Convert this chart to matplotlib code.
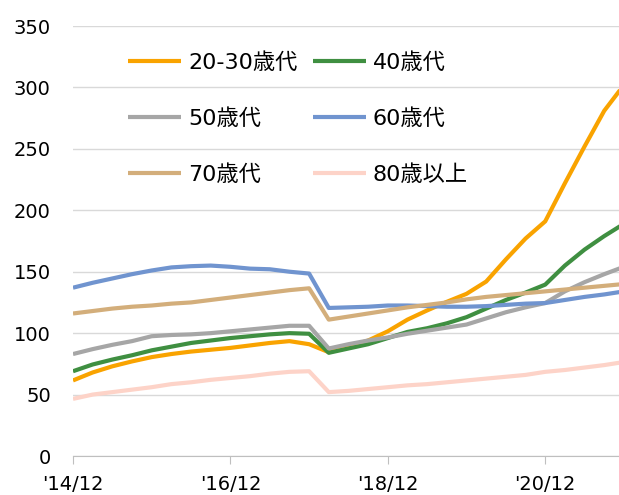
import matplotlib
matplotlib.use("Agg")
import matplotlib.pyplot as plt

# ---- data (quarterly, '14/12 .. '21/12) ----
tick_pos = [0, 8, 16, 24]
tick_labels = ["'14/12", "'16/12", "'18/12", "'20/12"]

age_20_30 = [61.5, 68, 73, 77, 80.5, 83, 85, 86.5, 88, 90, 92, 93.5, 91,
             84.5, 89, 94, 101.5, 111, 118.5, 125.5, 132, 142, 160, 177, 191,
             222, 252, 281, 302]
age_40 = [69, 74.5, 78.5, 82, 86, 89, 92, 94, 96, 97.5, 99, 100, 99.5,
          84, 87.5, 91, 96, 101, 104, 108, 113, 120, 127, 133, 139.5,
          155, 168, 179, 189]
age_50 = [83, 87, 90.5, 93.5, 97.5, 98.5, 99, 100, 101.5, 103, 104.5, 106, 106,
          87.5, 91, 94, 96.5, 99.5, 102, 104.5, 107, 112, 117, 121, 124.5,
          134, 141.5, 148, 154]
age_60 = [137, 141, 144.5, 148, 151, 153.5, 154.5, 155, 154, 152.5, 152, 150, 148.5,
          120.5, 121, 121.5, 122.5, 122.5, 122, 121.5, 121.5, 122, 123, 124, 124.5,
          127, 129.5, 131.5, 134]
age_70 = [116, 118, 120, 121.5, 122.5, 124, 125, 127, 129, 131, 133, 135, 136.5,
          111, 113.5, 116, 118.5, 121, 123, 125, 127.5, 129.5, 131, 132.5, 134,
          135.5, 137, 138.5, 140]
age_80 = [46.5, 50, 52, 54, 56, 58.5, 60, 62, 63.5, 65, 67, 68.5, 69,
          52, 53, 54.5, 56, 57.5, 58.5, 60, 61.5, 63, 64.5, 66, 68.5,
          70, 72, 74, 76.5]

series = [
    ("20-30歳代", age_20_30, "#F9A300"),
    ("40歳代", age_40, "#3F8F41"),
    ("50歳代", age_50, "#A6A6A6"),
    ("60歳代", age_60, "#7094CF"),
    ("70歳代", age_70, "#D3AE7B"),
    ("80歳以上", age_80, "#FDD3C8"),
]

plt.rcParams['font.family'] = ['DejaVu Sans', 'Noto Sans CJK JP']

fig = plt.figure(figsize=(6.19, 4.95), dpi=100)
ax = fig.add_axes([73 / 619, 39 / 495, 546 / 619, 430 / 495])

x = list(range(len(age_20_30)))
for name, vals, col in series:
    ax.plot(x, vals, color=col, lw=3, label=name, solid_capstyle='butt')

ax.set_xlim(0, 27.75)
ax.set_ylim(0, 350)
ax.set_yticks(range(0, 351, 50))
ax.set_xticks(tick_pos)
ax.set_xticklabels(tick_labels)

ax.grid(axis='y', color='#d9d9d9', lw=1)
ax.set_axisbelow(True)
for s in ['top', 'right', 'left']:
    ax.spines[s].set_visible(False)
ax.spines['bottom'].set_color('#bfbfbf')
ax.tick_params(axis='y', length=0, pad=16, labelsize=14)
ax.tick_params(axis='x', length=6, color='#bfbfbf', pad=8, labelsize=14)

# legend filled row by row (matplotlib fills columns first)
handles, labels = ax.get_legend_handles_labels()
order = [0, 2, 4, 1, 3, 5]
ax.legend([handles[i] for i in order], [labels[i] for i in order],
          ncol=2, frameon=False, fontsize=16, loc='upper left',
          bbox_to_anchor=(128 / 619, 1 - 52 / 495), bbox_transform=fig.transFigure,
          borderpad=0, borderaxespad=0, handlelength=2.4, handletextpad=0.3,
          columnspacing=0.7, labelspacing=1.6)

fig.savefig("out.png", dpi=100)
